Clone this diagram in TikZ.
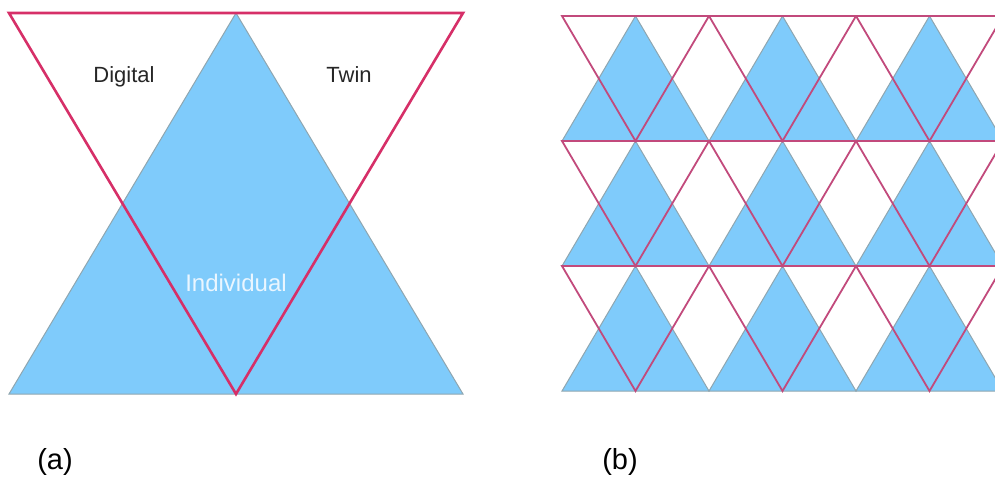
\documentclass[tikz,border=0pt]{standalone}
\usepackage{fontspec}
\setmainfont{Liberation Sans}
\definecolor{bluefill}{HTML}{7FCBFB}
\definecolor{edgegray}{HTML}{8FA6B0}
\definecolor{redline}{HTML}{D62F68}
\definecolor{redmuted}{HTML}{C24A7C}
\definecolor{paletext}{HTML}{EAF6FF}
\tikzset{
  bluetri/.style={fill=bluefill, draw=edgegray, line width=1pt, line join=miter},
  redtri/.style={draw=redline, line width=2.6pt, line join=miter},
  redtrib/.style={draw=redmuted, line width=1.8pt, line join=miter},
  lbl/.style={font=\fontsize{22}{26}\selectfont, text=black!85, anchor=base, inner sep=0pt},
  captxt/.style={font=\fontsize{29}{32}\selectfont, text=black, anchor=base, inner sep=0pt}
}
\begin{document}
\begin{tikzpicture}[x=1pt,y=-1pt]
\useasboundingbox (0,0) rectangle (995,477);
% panel (a)
\path[bluetri] (9,394) -- (463,394) -- (236,13) -- cycle;
\path[redtri] (9,13) -- (463,13) -- (236,394) -- cycle;
\node[lbl] (dig) at (124,82) {Digital};
\node[lbl] (twin) at (349,82) {Twin};
\node[lbl, text=paletext, font=\fontsize{24}{28}\selectfont] (ind) at (236,291) {Individual};
\node[captxt] (la) at (55,469) {(a)};
% panel (b)
\begin{scope}
\clip (550,0) rectangle (995,477);
\foreach \r in {0,1,2}{
  \foreach \c in {0,1,2,3}{
    \pgfmathsetmacro{\xo}{562+147*\c}
    \pgfmathsetmacro{\yo}{16+125*\r}
    \path[bluetri] (\xo,\yo+125) -- (\xo+147,\yo+125) -- (\xo+73.5,\yo) -- cycle;
  }
}
\foreach \r in {0,1,2}{
  \foreach \c in {0,1,2,3}{
    \pgfmathsetmacro{\xo}{562+147*\c}
    \pgfmathsetmacro{\yo}{16+125*\r}
    \path[redtrib] (\xo,\yo) -- (\xo+147,\yo) -- (\xo+73.5,\yo+125) -- cycle;
  }
}
\end{scope}
\node[captxt] (lb) at (620,469) {(b)};
\end{tikzpicture}
\end{document}
